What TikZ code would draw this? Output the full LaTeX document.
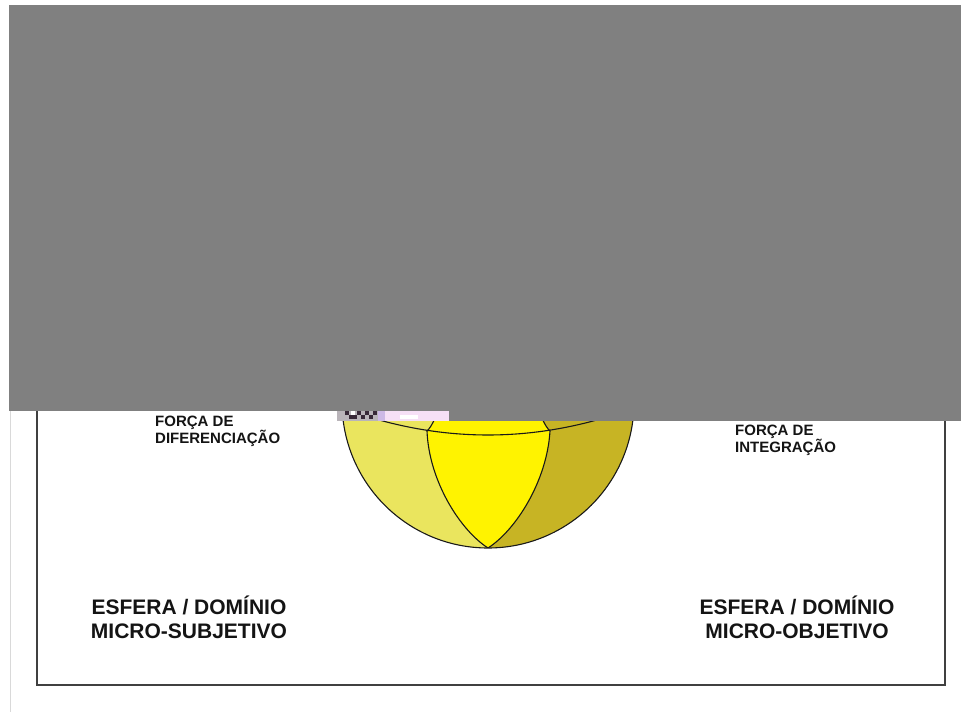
\documentclass[tikz,border=0pt]{standalone}
\usepackage{fontspec}
\setmainfont{Liberation Sans}
\definecolor{sphPale}{RGB}{234,229,94}
\definecolor{sphBright}{RGB}{255,243,0}
\definecolor{sphOlive}{RGB}{199,180,36}
\definecolor{veilGray}{RGB}{128,128,128}
\definecolor{inkText}{RGB}{20,20,20}
\definecolor{noisePink}{RGB}{246,224,246}
\definecolor{noiseLilac}{RGB}{205,185,230}
\definecolor{noiseDark}{RGB}{55,40,55}
\definecolor{noiseGray}{RGB}{185,180,185}
\begin{document}
\begin{tikzpicture}[x=1pt,y=1pt,
  frameline/.style={draw=black!75, line width=1.3pt},
  sphedge/.style={draw=black!90, line width=1.1pt},
  forcelabel/.style={font=\bfseries\fontsize{15}{17}\selectfont, text=inkText, inner sep=0pt, anchor=base west},
  domainlabel/.style={font=\bfseries\fontsize{21}{24}\selectfont, text=inkText, inner sep=0pt, anchor=base},
  veil/.style={fill=veilGray},
]
\useasboundingbox (0,0) rectangle (961,712);
\fill[white] (0,0) rectangle (961,712);

% faint page edge
\draw[color=black!15, line width=0.8pt] (10,0) -- (10,301);

% outer frame
\draw[frameline] (37,27) rectangle (945,652);

% sphere key points
\coordinate (ctr) at (488,310);
\coordinate (eqL) at (427,281);
\coordinate (eqR) at (550,281);
\coordinate (poleS) at (488,164);
\coordinate (poleN) at (488,456);

% sphere faces
\begin{scope}
  \clip (ctr) circle[radius=146];
  \fill[sphPale] (ctr) circle[radius=146];
  \fill[sphOlive] (poleN) .. controls (504,440) and (530,299) .. (eqR)
        .. controls (547,231) and (516,182) .. (poleS)
        -- (660,150) -- (660,470) -- cycle;
  \fill[sphBright] (poleN) .. controls (472,440) and (447,299) .. (eqL)
        .. controls (429,231) and (460,182) .. (poleS)
        .. controls (516,182) and (547,231) .. (eqR)
        .. controls (530,299) and (504,440) .. (poleN) -- cycle;
  % meridians
  \draw[sphedge] (poleN) .. controls (472,440) and (447,299) .. (eqL)
        .. controls (429,231) and (460,182) .. (poleS);
  \draw[sphedge] (poleN) .. controls (504,440) and (530,299) .. (eqR)
        .. controls (547,231) and (516,182) .. (poleS);
  % equator
  \draw[sphedge] (342,304) .. controls (439.3,268) and (536.7,268) .. (634,304);
\end{scope}
\draw[sphedge] (ctr) circle[radius=146];

% force labels
\node[forcelabel] (difA) at (155,285) {FORÇA DE};
\node[forcelabel] (difB) at (155,268) {DIFERENCIAÇÃO};
\node[forcelabel] (intA) at (735,276) {FORÇA DE};
\node[forcelabel] (intB) at (735,259) {INTEGRAÇÃO};

% domain labels
\node[domainlabel] (subA) at (189,97) {ESFERA / DOMÍNIO};
\node[domainlabel] (subB) at (189,73) {MICRO-SUBJETIVO};
\node[domainlabel] (objA) at (797,97) {ESFERA / DOMÍNIO};
\node[domainlabel] (objB) at (797,73) {MICRO-OBJETIVO};

% gray cover
\fill[veil] (9,301) rectangle (961,707);
\fill[veil] (449,291) rectangle (961,301);

% noisy strip under the cover
\fill[noisePink] (385,291) rectangle (449,301);
\fill[white] (400,293) rectangle (418,297);
\fill[noiseLilac] (378,291) rectangle (385,301);
\fill[noiseGray] (337,291) rectangle (378,301);
\fill[white] (351,297) rectangle (355,301);
\foreach \cx/\cy in {345/297, 353/293, 357/297, 361/293, 365/297, 369/293, 373/297, 349/293}
  \fill[noiseDark] (\cx,\cy) rectangle ++(4,4);
\end{tikzpicture}
\end{document}
